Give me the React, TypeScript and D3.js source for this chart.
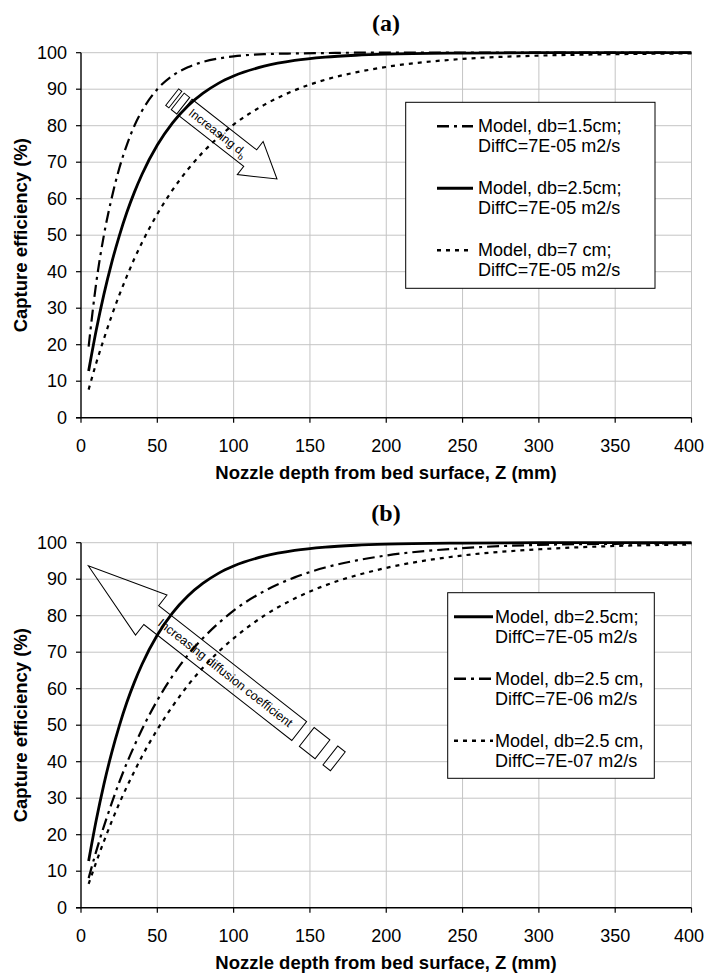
import React from 'react';
import * as d3 from 'd3';

// ---------- data ----------
const Z_MM = [5, 10, 15, 20, 25, 30, 35, 40, 50, 60, 70, 80, 90, 100, 120, 140, 160, 180, 200, 250, 300, 350, 400];

// panel (a): bubble diameter varied, DiffC = 7E-05 m2/s
const A_DB15 = [19.5, 37.0, 50.0, 60.0, 68.2, 74.7, 80.0, 84.1, 90.0, 93.7, 96.0, 97.5, 98.4, 99.0, 99.6, 99.8, 99.9, 100, 100, 100, 100, 100, 100];
const A_DB25 = [12.8, 24.0, 33.8, 42.3, 49.7, 56.2, 61.8, 66.7, 74.7, 80.8, 85.4, 88.9, 91.6, 93.6, 96.3, 97.9, 98.8, 99.3, 99.6, 99.9, 100, 100, 100];
const A_DB70 = [7.7, 15.0, 21.6, 27.8, 33.5, 38.7, 43.6, 48.0, 55.8, 62.4, 68.0, 72.8, 76.8, 80.3, 85.7, 89.7, 92.6, 94.6, 96.1, 98.3, 99.2, 99.6, 99.8];

// panel (b): db = 2.5 cm, DiffC varied
const B_D5 = [12.8, 24.0, 33.8, 42.3, 49.7, 56.2, 61.8, 66.7, 74.7, 80.8, 85.4, 88.9, 91.6, 93.6, 96.3, 97.9, 98.8, 99.3, 99.6, 99.9, 100, 100, 100];
const B_D6 = [8.1, 15.5, 22.3, 28.5, 34.3, 39.6, 44.4, 48.9, 56.8, 63.5, 69.2, 73.9, 77.9, 81.4, 86.7, 90.5, 93.2, 95.1, 96.5, 98.5, 99.4, 99.7, 99.9];
const B_D7 = [6.5, 12.5, 18.2, 23.5, 28.5, 33.1, 37.4, 41.5, 48.8, 55.2, 60.9, 65.8, 70.1, 73.8, 80.0, 84.7, 88.3, 91.0, 93.1, 96.5, 98.2, 99.1, 99.5];

const X_TICKS = [0, 50, 100, 150, 200, 250, 300, 350, 400];
const Y_TICKS = [0, 10, 20, 30, 40, 50, 60, 70, 80, 90, 100];

const LEGEND_A = [
  ['Model, db=1.5cm;', 'DiffC=7E-05 m2/s'],
  ['Model, db=2.5cm;', 'DiffC=7E-05 m2/s'],
  ['Model, db=7 cm;', 'DiffC=7E-05 m2/s'],
];
const LEGEND_B = [
  ['Model, db=2.5cm;', 'DiffC=7E-05 m2/s'],
  ['Model, db=2.5 cm,', 'DiffC=7E-06 m2/s'],
  ['Model, db=2.5 cm,', 'DiffC=7E-07 m2/s'],
];

const X_TITLE = 'Nozzle depth from bed surface, Z (mm)';
const Y_TITLE = 'Capture efficiency (%)';

// ---------- styles ----------
const FONT = "'Liberation Sans', Arial, sans-serif";
const STYLE_SOLID = { width: 2.8, dash: null as string | null };
const STYLE_DASHDOT = { width: 2.2, dash: '12 5 3 5' };
const STYLE_DOT = { width: 2.2, dash: '4 5' };

const W = 705, H = 974;
const X0 = 81, X1 = 691.5;
const PH = 365;

type Series = { values: number[]; style: { width: number; dash: string | null } };
type ArrowSpec = {
  tip: [number, number]; angle: number; hl: number; hw: number; bw: number; bl: number;
  stripes: [number, number][]; flip: boolean; fontSize: number; sub?: string; text: string;
};
type LegendSpec = {
  x: number; y: number; w: number; h: number; sx0: number; sx1: number; tx: number;
  entries: string[][]; styles: { width: number; dash: string | null }[];
};

function Arrow({ a }: { a: ArrowSpec }) {
  const { hl, hw, bw, bl } = a;
  const path = `M0,0 L${-hl},${-hw / 2} L${-hl},${-bw / 2} L${-(hl + bl)},${-bw / 2} L${-(hl + bl)},${bw / 2} L${-hl},${bw / 2} L${-hl},${hw / 2} Z`;
  let pos = hl + bl;
  const rects = a.stripes.map(([g, s], i) => {
    pos += g + s;
    return <rect key={i} x={-pos} y={-bw / 2} width={s} height={bw} fill="none" stroke="#000" strokeWidth={1} />;
  });
  return (
    <g transform={`translate(${a.tip[0]},${a.tip[1]}) rotate(${a.angle})`}>
      <path d={path} fill="none" stroke="#000" strokeWidth={1} />
      {rects}
      <g transform={`translate(${-(hl + bl / 2)},0) rotate(${a.flip ? 180 : 0})`}>
        <text x={0} y={0} textAnchor="middle" dominantBaseline="central" fontFamily={FONT} fontSize={a.fontSize} fill="#000">
          {a.text}
          {a.sub ? <tspan baselineShift="sub" fontSize={a.fontSize * 0.7}>{a.sub}</tspan> : null}
        </text>
      </g>
    </g>
  );
}

function Panel({ top, label, series, legend, arrow }: { top: number; label: string; series: Series[]; legend: LegendSpec; arrow: ArrowSpec }) {
  const x = d3.scaleLinear().domain([0, 400]).range([X0, X1]);
  const y = d3.scaleLinear().domain([0, 100]).range([top + PH, top]);
  const line = d3.line<[number, number]>().x(d => x(d[0])).y(d => y(d[1])).curve(d3.curveMonotoneX);
  const bottom = top + PH;
  return (
    <g>
      <text x={386} y={top - 30} textAnchor="middle" dominantBaseline="central" fontFamily="'Liberation Serif', 'Times New Roman', serif" fontWeight="bold" fontSize={24}>{label}</text>
      {/* gridlines */}
      {X_TICKS.filter(t => t > 0).map(t => (
        <line key={'gx' + t} x1={x(t)} x2={x(t)} y1={top} y2={bottom} stroke="#c4c4c4" strokeWidth={1} />
      ))}
      {Y_TICKS.filter(t => t > 0).map(t => (
        <line key={'gy' + t} x1={X0} x2={X1} y1={y(t)} y2={y(t)} stroke="#c4c4c4" strokeWidth={1} />
      ))}
      {/* axes */}
      <line x1={X0} x2={X0} y1={top} y2={bottom} stroke="#000" strokeWidth={1.4} />
      <line x1={X0 - 5} x2={X1} y1={bottom} y2={bottom} stroke="#000" strokeWidth={1.4} />
      {Y_TICKS.map(t => (
        <g key={'ty' + t}>
          <line x1={X0 - 5} x2={X0} y1={y(t)} y2={y(t)} stroke="#000" strokeWidth={1.2} />
          <text x={67} y={y(t)} textAnchor="end" dominantBaseline="central" fontFamily={FONT} fontSize={18}>{t}</text>
        </g>
      ))}
      {X_TICKS.map(t => (
        <g key={'tx' + t}>
          <line x1={x(t)} x2={x(t)} y1={bottom} y2={bottom + 5} stroke="#000" strokeWidth={1.2} />
          <text x={Math.min(x(t), W - 16)} y={bottom + 28} textAnchor="middle" dominantBaseline="central" fontFamily={FONT} fontSize={18}>{t}</text>
        </g>
      ))}
      <text x={386} y={bottom + 55} textAnchor="middle" dominantBaseline="central" fontFamily={FONT} fontWeight="bold" fontSize={18.5}>{X_TITLE}</text>
      <text transform={`translate(20,${top + PH / 2}) rotate(-90)`} textAnchor="middle" dominantBaseline="central" fontFamily={FONT} fontWeight="bold" fontSize={18.5}>{Y_TITLE}</text>
      {/* curves */}
      {series.map((s, i) => (
        <path key={'s' + i} d={line(Z_MM.map((z, j) => [z, s.values[j]] as [number, number])) || ''} fill="none" stroke="#000" strokeWidth={s.style.width} strokeDasharray={s.style.dash || undefined} />
      ))}
      <Arrow a={arrow} />
      {/* legend */}
      <rect x={legend.x} y={legend.y} width={legend.w} height={legend.h} fill="#fff" stroke="#000" strokeWidth={1} />
      {legend.entries.map((e, i) => {
        const cy = legend.y + 24 + i * 62;
        const st = legend.styles[i];
        return (
          <g key={'l' + i}>
            <line x1={legend.sx0} x2={legend.sx1} y1={cy} y2={cy} stroke="#000" strokeWidth={st.width + 0.3} strokeDasharray={st.dash || undefined} />
            <text x={legend.tx} y={cy} dominantBaseline="central" fontFamily={FONT} fontSize={18}>{e[0]}</text>
            <text x={legend.tx} y={cy + 20} dominantBaseline="central" fontFamily={FONT} fontSize={18}>{e[1]}</text>
          </g>
        );
      })}
    </g>
  );
}

export default function App() {
  const topA = 52.7, topB = 542.7;
  const arrowA: ArrowSpec = {
    tip: [277, 179], angle: 38, hl: 34, hw: 42, bw: 21, bl: 82,
    stripes: [[3, 7], [3, 4]], flip: false, fontSize: 12, text: 'Increasing d', sub: 'b',
  };
  const arrowB: ArrowSpec = {
    tip: [88.3, 565.7], angle: 218.1, hl: 80, hw: 51, bw: 24, bl: 188,
    stripes: [[9.6, 20], [10, 9.5]], flip: true, fontSize: 12.5, text: 'Increasing diffusion coefficient',
  };
  const legendA: LegendSpec = {
    x: 405.7, y: 102.3, w: 249.3, h: 186, sx0: 437, sx1: 473, tx: 478,
    entries: LEGEND_A, styles: [STYLE_DASHDOT, STYLE_SOLID, STYLE_DOT],
  };
  const legendB: LegendSpec = {
    x: 447.7, y: 592.7, w: 206.6, h: 185.6, sx0: 454, sx1: 493, tx: 495,
    entries: LEGEND_B, styles: [STYLE_SOLID, STYLE_DASHDOT, STYLE_DOT],
  };
  return (
    <svg width={W} height={H} viewBox={`0 0 ${W} ${H}`} style={{ position: 'absolute', left: 0, top: 0, background: '#fff' }}>
      <rect x={0} y={0} width={W} height={H} fill="#fff" />
      <Panel top={topA} label="(a)" legend={legendA} arrow={arrowA}
        series={[
          { values: A_DB15, style: STYLE_DASHDOT },
          { values: A_DB25, style: STYLE_SOLID },
          { values: A_DB70, style: STYLE_DOT },
        ]} />
      <Panel top={topB} label="(b)" legend={legendB} arrow={arrowB}
        series={[
          { values: B_D5, style: STYLE_SOLID },
          { values: B_D6, style: STYLE_DASHDOT },
          { values: B_D7, style: STYLE_DOT },
        ]} />
    </svg>
  );
}
